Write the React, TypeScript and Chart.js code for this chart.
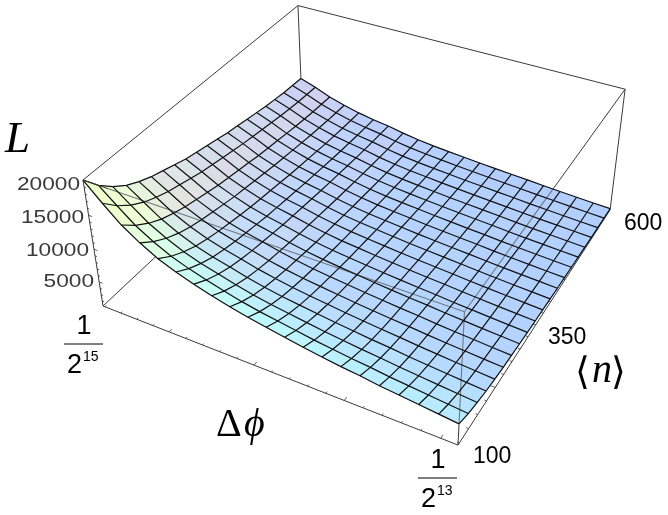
import React, { useEffect, useRef } from "react";
import { Chart, registerables } from "chart.js";

Chart.register(...registerables);

// Axis values of the mesh
const phiExponents = [-15, -14.9, -14.8, -14.7, -14.6, -14.5, -14.4, -14.3, -14.2, -14.1, -14, -13.9, -13.8, -13.7, -13.6, -13.5, -13.4, -13.3, -13.2, -13.1, -13];
const nValues = [100, 125, 150, 175, 200, 225, 250, 275, 300, 325, 350, 375, 400, 425, 450, 475, 500, 525, 550, 575, 600];
const zTicks = [5000, 10000, 15000, 20000];

// L: one list per Δφ, one entry per <n>
const L00 = [20000, 17744, 16052, 14736, 13796, 13044, 12480, 11916, 11352, 10976, 10600, 10224, 9848, 9566, 9284, 9002, 8720, 8532, 8344, 8250, 8156];
const L01 = [17559, 15645, 14188, 13064, 12256, 11606, 11115, 10623, 10149, 9815, 9482, 9166, 8832, 8586, 8341, 8095, 7849, 7691, 7533, 7445, 7357];
const L02 = [15303, 13635, 12365, 11385, 10681, 10115, 9687, 9258, 8845, 8554, 8264, 7988, 7697, 7483, 7269, 7055, 6840, 6703, 6565, 6488, 6412];
const L03 = [13611, 12127, 10998, 10127, 9500, 8997, 8616, 8235, 7867, 7609, 7350, 7105, 6846, 6656, 6465, 6275, 6084, 5962, 5839, 5771, 5703];
const L04 = [12201, 10871, 9858, 9078, 8516, 8065, 7723, 7382, 7052, 6820, 6589, 6369, 6137, 5966, 5795, 5625, 5454, 5344, 5234, 5173, 5112];
const L05 = [11167, 9950, 9023, 8308, 7795, 7381, 7069, 6756, 6455, 6242, 6030, 5829, 5617, 5461, 5304, 5148, 4992, 4891, 4791, 4735, 4679];
const L06 = [10321, 9196, 8339, 7679, 7204, 6822, 6533, 6244, 5966, 5769, 5573, 5388, 5191, 5047, 4902, 4758, 4613, 4521, 4428, 4376, 4324];
const L07 = [9569, 8478, 7655, 7024, 6564, 6201, 5933, 5655, 5387, 5206, 5024, 4842, 4660, 4526, 4392, 4258, 4124, 4029, 3942, 3895, 3856];
const L08 = [8911, 7860, 7075, 6469, 6042, 5694, 5436, 5177, 4928, 4750, 4580, 4411, 4242, 4117, 3983, 3858, 3734, 3645, 3564, 3520, 3484];
const L09 = [8347, 7345, 6594, 6018, 5609, 5284, 5042, 4800, 4557, 4391, 4232, 4073, 3906, 3790, 3673, 3556, 3439, 3355, 3280, 3239, 3197];
const L10 = [7877, 6924, 6207, 5664, 5270, 4963, 4726, 4498, 4269, 4120, 3962, 3812, 3663, 3545, 3434, 3324, 3214, 3135, 3064, 3025, 2985];
const L11 = [7407, 6503, 5829, 5318, 4948, 4652, 4437, 4222, 4007, 3859, 3711, 3570, 3429, 3326, 3215, 3111, 3007, 2933, 2867, 2829, 2792];
const L12 = [6937, 6091, 5459, 4974, 4620, 4349, 4141, 3940, 3739, 3600, 3462, 3330, 3198, 3101, 2997, 2900, 2803, 2733, 2671, 2636, 2601];
const L13 = [6561, 5754, 5150, 4685, 4357, 4094, 3897, 3707, 3510, 3379, 3254, 3130, 2998, 2906, 2808, 2716, 2624, 2559, 2500, 2467, 2441];
const L14 = [6185, 5412, 4843, 4404, 4088, 3841, 3655, 3476, 3290, 3167, 3049, 2926, 2808, 2721, 2629, 2542, 2455, 2394, 2338, 2307, 2276];
const L15 = [5903, 5153, 4598, 4173, 3872, 3630, 3453, 3276, 3099, 2981, 2869, 2751, 2639, 2550, 2467, 2379, 2296, 2237, 2184, 2155, 2131];
const L16 = [5527, 4814, 4283, 3880, 3593, 3371, 3200, 3034, 2868, 2752, 2647, 2537, 2432, 2349, 2266, 2189, 2111, 2062, 2006, 1984, 1957];
const L17 = [5245, 4553, 4039, 3651, 3378, 3158, 2995, 2838, 2680, 2570, 2465, 2365, 2261, 2182, 2103, 2030, 1956, 1904, 1857, 1831, 1810];
const L18 = [4963, 4293, 3802, 3424, 3161, 2953, 2799, 2645, 2496, 2392, 2293, 2194, 2099, 2025, 1950, 1881, 1811, 1762, 1717, 1692, 1668];
const L19 = [4681, 4040, 3567, 3211, 2958, 2762, 2612, 2467, 2326, 2228, 2135, 2041, 1947, 1877, 1812, 1741, 1676, 1634, 1587, 1563, 1540];
const L20 = [4399, 3788, 3339, 3000, 2763, 2573, 2433, 2296, 2164, 2072, 1984, 1896, 1808, 1746, 1680, 1614, 1553, 1509, 1469, 1447, 1430];
const surfaceRows = [L00, L01, L02, L03, L04, L05, L06, L07, L08, L09, L10, L11, L12, L13, L14, L15, L16, L17, L18, L19, L20];

const zMin = 1203;
const zMax = 20003;

// Perspective camera of the plot box: u along Δφ, v along <n>, w along L
function project(u: number, v: number, w: number) {
  const d = 1 - 0.1212 * u + 0.2144 * v - 0.0673 * w;
  return {
    x: (103 + 299.5 * u + 264.4 * v - 25.6 * w) / d,
    y: (306 + 85.1 * u - 161.5 * v - 138.1 * w) / d,
  };
}
const uOf = (e: number) => (e + 15) / 2;
const vOf = (n: number) => (n - 100) / 500;
const wOf = (l: number) => (l - zMin) / (zMax - zMin);
const pt = (i: number, j: number) => project(uOf(phiExponents[i]), vOf(nValues[j]), wOf(surfaceRows[i][j]));

function shade(i: number, j: number) {
  const du = uOf(phiExponents[i + 1]) - uOf(phiExponents[i]);
  const dv = vOf(nValues[j + 1]) - vOf(nValues[j]);
  const r = surfaceRows;
  const su = (wOf(r[i][j]) + wOf(r[i][j + 1]) - wOf(r[i + 1][j]) - wOf(r[i + 1][j + 1])) / 2 / du;
  const sv = (wOf(r[i][j]) + wOf(r[i + 1][j]) - wOf(r[i][j + 1]) - wOf(r[i + 1][j + 1])) / 2 / dv;
  const R = Math.min(238, 174 + 34 * su);
  const G = Math.min(255, 206 + 42 * sv);
  const B = Math.min(255, 255 - 25 * Math.max(0, su - 0.4));
  return `rgb(${Math.round(R)},${Math.round(G)},${Math.round(B)})`;
}

const seg = (a: number[], b: number[], color: string, width: number) => ({
  data: [project(a[0], a[1], a[2]), project(b[0], b[1], b[2])],
  showLine: true,
  fill: false,
  borderColor: color,
  borderWidth: width,
  pointRadius: 0,
  tension: 0,
});

function buildDatasets() {
  const dark = "#3a3a3a";
  const veil = "#6f7780";
  const top: any[] = [];
  // front box edges where they stand clear of the surface
  const w10 = wOf(surfaceRows[20][0]);
  top.push(seg([0, 0, 1], [0.076, 0, 1], dark, 1));
  top.push(seg([1, 1, 1], [1, 0.49, 1], dark, 1));
  top.push(seg([1, 0, 0], [1, 0, w10], dark, 1));

  // mesh lines
  const mesh: any[] = [];
  phiExponents.forEach((_, i) => {
    mesh.push({ data: nValues.map((__, j) => pt(i, j)), showLine: true, fill: false, borderColor: "#101010", borderWidth: 1.2, pointRadius: 0, tension: 0 });
  });
  nValues.forEach((_, j) => {
    mesh.push({ data: phiExponents.map((__, i) => pt(i, j)), showLine: true, fill: false, borderColor: "#101010", borderWidth: 1.2, pointRadius: 0, tension: 0 });
  });

  // front box edges seen across the surface
  const veiled = [
    seg([0.076, 0, 1], [1, 0, 1], veil, 1.1),
    seg([1, 0, 1], [1, 0.49, 1], veil, 1.1),
    seg([1, 0, w10], [1, 0, 1], veil, 1.1),
  ];

  // surface cells, nearest first
  const cells: any[] = [];
  for (let j = 0; j < nValues.length - 1; j++) {
    for (let i = phiExponents.length - 2; i >= 0; i--) {
      const c = shade(i, j);
      cells.push({
        data: [pt(i, j), pt(i + 1, j), pt(i + 1, j + 1), pt(i, j + 1), pt(i, j)],
        showLine: true,
        fill: "shape",
        backgroundColor: c,
        borderColor: c,
        borderWidth: 0.6,
        pointRadius: 0,
        tension: 0,
      });
    }
  }

  // rear box edges and axes
  const box: any[] = [
    seg([0, 0, 0], [1, 0, 0], dark, 1),
    seg([1, 0, 0], [1, 1, 0], dark, 1),
    seg([0, 0, 0], [0, 0, 1], dark, 1),
    seg([0, 0, 0], [0, 1, 0], dark, 1),
    seg([1, 1, 0], [1, 1, 1], dark, 1),
    seg([0, 1, 0], [0, 1, 1], dark, 1),
    seg([0, 0, 1], [0, 1, 1], dark, 1),
    seg([0, 1, 1], [1, 1, 1], dark, 1),
  ];
  for (let k = 0; k < 20; k++) {
    const a = 0.007 + 0.05 * k;
    const len = k % 5 === 4 ? 0.012 : 0.006;
    box.push(seg([a, 0, 0], [a, len, 0], dark, 0.8));
    box.push(seg([1, a, 0], [1 - len, a, 0], dark, 0.8));
  }
  for (let l = 2000; l <= 20000; l += 1000) {
    const len = l % 5000 === 0 ? 0.011 : 0.006;
    box.push(seg([0, 0, wOf(l)], [len, 0, wOf(l)], dark, 0.8));
  }
  return [...top, ...mesh, ...veiled, ...cells, ...box];
}

const textPlugin = {
  id: "plotText",
  afterDraw(chart: any) {
    const { ctx, scales } = chart;
    const X = (v: number) => scales.x.getPixelForValue(v);
    const Y = (v: number) => scales.y.getPixelForValue(v);
    const put = (t: string, x: number, y: number, font: string, align: CanvasTextAlign = "left", color = "#000", sx = 1) => {
      ctx.save();
      ctx.translate(X(x), Y(y));
      ctx.scale(sx, 1);
      ctx.font = font;
      ctx.fillStyle = color;
      ctx.textAlign = align;
      ctx.textBaseline = "alphabetic";
      ctx.fillText(t, 0, 0);
      ctx.restore();
    };
    const rule = (x0: number, x1: number, y: number) => {
      ctx.save();
      ctx.strokeStyle = "#000";
      ctx.lineWidth = 1;
      ctx.beginPath();
      ctx.moveTo(X(x0), Y(y));
      ctx.lineTo(X(x1), Y(y));
      ctx.stroke();
      ctx.restore();
    };
    const sans = "Liberation Sans";
    const serif = "Liberation Serif";
    put("L", 5, 152, `italic 45px "${serif}"`);
    const zRight = [94, 89, 84, 80];
    const zBase = [287, 256, 223, 190];
    zTicks.forEach((t, i) => put(String(t), zRight[i], zBase[i], `18px "${sans}"`, "right", "#3a3a3a", 1.26));
    put("1", 84, 334, `27px "${sans}"`, "center");
    rule(64, 103, 344);
    put("2", 67, 373, `27px "${sans}"`);
    put("15", 83, 361, `14px "${sans}"`);
    put("1", 438, 468, `27px "${sans}"`, "center");
    rule(418, 457, 478);
    put("2", 421, 507, `27px "${sans}"`);
    put("13", 437, 495, `14px "${sans}"`);
    put("100", 473, 463, `23px "${sans}"`);
    put("350", 548, 344, `23px "${sans}"`);
    put("600", 624, 230, `23px "${sans}"`);
    put("⟨", 575, 384, `38px "DejaVu Sans"`);
    put("n", 592, 382, `italic 40px "${serif}"`);
    put("⟩", 611, 384, `38px "DejaVu Sans"`);
    put("Δ", 216, 436, `40px "${serif}"`);
    put("ϕ", 244, 436, `italic 40px "${serif}"`);
  },
};

export default function App() {
  const ref = useRef<HTMLCanvasElement>(null);
  useEffect(() => {
    const chart = new Chart(ref.current!, {
      type: "scatter",
      data: { datasets: buildDatasets() },
      options: {
        animation: false,
        responsive: false,
        devicePixelRatio: 1,
        layout: { padding: 0 },
        plugins: { legend: { display: false }, tooltip: { enabled: false } },
        scales: {
          x: { type: "linear", min: 0, max: 668, display: false },
          y: { type: "linear", min: 0, max: 515, reverse: true, display: false },
        },
      },
      plugins: [textPlugin],
    } as any);
    return () => chart.destroy();
  }, []);
  return (
    <div style={{ position: "fixed", left: 0, top: 0, width: 668, height: 515, background: "#fff" }}>
      <canvas ref={ref} width={668} height={515} style={{ display: "block" }} />
    </div>
  );
}
